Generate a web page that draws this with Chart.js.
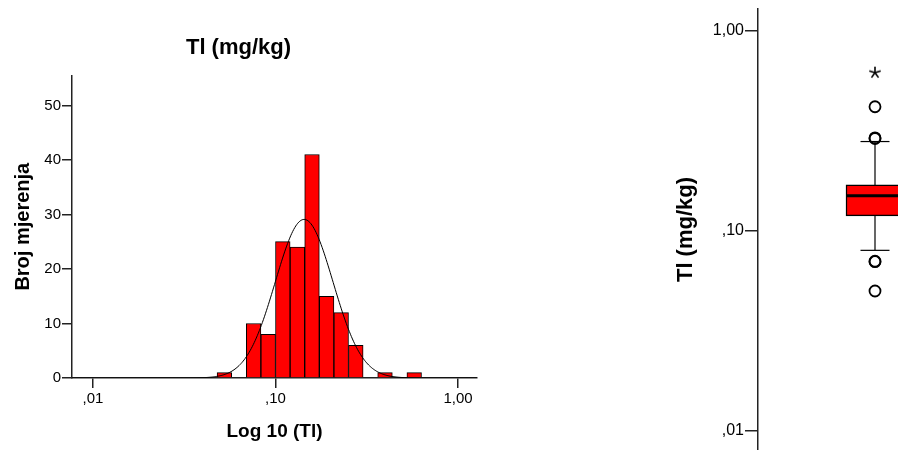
<!DOCTYPE html>
<html>
<head>
<meta charset="utf-8">
<script src="https://cdn.jsdelivr.net/npm/chart.js@4.4.1/dist/chart.umd.min.js"></script>
<style>
  html, body { margin: 0; padding: 0; background: #fff; width: 898px; height: 450px; overflow: hidden; position: relative; }
  #hist { position: absolute; left: 0; top: 0; }
  #box { position: absolute; left: 660px; top: 0; }
</style>
</head>
<body>
<canvas id="hist" width="484" height="450"></canvas>
<canvas id="box" width="332" height="450"></canvas>
<script>
// ---------- Data: histogram of log10(Tl) ----------
const binCenters = [-1.28, -1.20, -1.12, -1.04, -0.96, -0.88, -0.80, -0.72, -0.64, -0.56, -0.48, -0.40, -0.32, -0.24];
const binCounts  = [1, 0, 10, 8, 25, 24, 41, 15, 12, 6, 0, 1, 0, 1];
const binWidth = 0.08;
const normalMean = -0.843;
const normalSD = 0.158;
const histXTickValues = [-2, -1, 0];
const histXTickLabels = [',01', ',10', '1,00'];
const histYTickValues = [0, 10, 20, 30, 40, 50];

// ---------- Data: box plot of Tl (mg/kg) ----------
const boxQ1 = 0.119;
const boxMedian = 0.150;
const boxQ3 = 0.170;
const whiskerLow = 0.080;
const whiskerHigh = 0.280;
const outliers = [0.290, 0.292, 0.418, 0.0702, 0.0706, 0.0501];
const extremes = [0.619];
const boxTickValues = [0.01, 0.1, 1];
const boxTickLabels = [',01', ',10', '1,00'];

Chart.defaults.font.family = "'Liberation Sans', Arial, sans-serif";
Chart.defaults.color = '#000';

// normal curve from fitted parameters
const totalN = binCounts.reduce((a, b) => a + b, 0);
const xMin = -2.115, xMax = 0.104;
const curve = [];
for (let i = 0; i <= 400; i++) {
  const x = xMin + (xMax - xMin) * i / 400;
  const z = (x - normalMean) / normalSD;
  curve.push({ x: x, y: totalN * binWidth / (normalSD * Math.sqrt(2 * Math.PI)) * Math.exp(-0.5 * z * z) });
}

new Chart(document.getElementById('hist'), {
  type: 'bar',
  data: {
    datasets: [
      {
        type: 'line',
        data: curve,
        borderColor: '#000',
        borderWidth: 1,
        pointRadius: 0,
        tension: 0,
        order: 0
      },
      {
        type: 'bar',
        data: binCenters.map((c, i) => ({ x: c, y: binCounts[i] })),
        backgroundColor: '#ff0000',
        borderColor: '#000',
        borderWidth: 1,
        barPercentage: 1,
        categoryPercentage: 1,
        order: 1
      }
    ]
  },
  options: {
    responsive: false,
    animation: false,
    devicePixelRatio: 1,
    layout: { autoPadding: false, padding: { left: 0, right: 7, top: 0, bottom: 0 } },
    plugins: {
      legend: { display: false },
      tooltip: { enabled: false },
      title: {
        display: true,
        text: 'Tl (mg/kg)',
        color: '#000',
        font: { size: 22, weight: 'bold' },
        padding: { top: 35, bottom: 14 }
      }
    },
    scales: {
      x: {
        type: 'linear',
        min: xMin,
        max: xMax,
        bounds: 'data',
        offset: false,
        afterBuildTicks: s => { s.ticks = histXTickValues.map(v => ({ value: v })); },
        afterFit: s => { s.height = 72; },
        ticks: {
          callback: v => histXTickLabels[histXTickValues.indexOf(v)],
          font: { size: 15 },
          color: '#000',
          padding: 2,
          maxRotation: 0,
          autoSkip: false
        },
        grid: { display: true, offset: false, drawOnChartArea: false, drawTicks: true, tickLength: 10, color: '#222', lineWidth: 1.5 },
        border: { display: true, color: '#222', width: 1.5 },
        title: { display: true, text: 'Log 10 (Tl)', color: '#000', font: { size: 19, weight: 'bold' }, padding: { top: 0, bottom: 7 } }
      },
      y: {
        min: 0,
        max: 55.5,
        bounds: 'data',
        afterBuildTicks: s => { s.ticks = histYTickValues.map(v => ({ value: v })); },
        afterFit: s => { s.width = 72; },
        ticks: { font: { size: 15 }, color: '#000', padding: 1, autoSkip: false },
        grid: { display: true, drawOnChartArea: false, drawTicks: true, tickLength: 10, color: '#222', lineWidth: 1.5 },
        border: { display: true, color: '#222', width: 1.5 },
        title: { display: true, text: 'Broj mjerenja', color: '#000', font: { size: 20, weight: 'bold' }, padding: { top: 11, bottom: 0 } }
      }
    }
  }
});

// asterisk point style for extreme values
function makeAsterisk(r, lw) {
  const s = Math.ceil(2 * r + lw + 2);
  const c = document.createElement('canvas');
  c.width = s; c.height = s;
  const g = c.getContext('2d');
  g.strokeStyle = '#000';
  g.lineWidth = lw;
  const cx = s / 2, cy = s / 2;
  for (let k = 0; k < 5; k++) {
    const a = -Math.PI / 2 + k * 2 * Math.PI / 5;
    g.beginPath();
    g.moveTo(cx, cy);
    g.lineTo(cx + r * Math.cos(a), cy + r * Math.sin(a));
    g.stroke();
  }
  return c;
}

new Chart(document.getElementById('box'), {
  type: 'bar',
  data: {
    datasets: [
      { type: 'line', data: [{ x: 0, y: boxMedian }], showLine: false, pointStyle: 'line', pointRadius: 29, pointBorderWidth: 3, pointBorderColor: '#000', order: 0 },
      { type: 'line', data: outliers.map(v => ({ x: 0, y: v })), showLine: false, pointStyle: 'circle', pointRadius: 5.5, pointBorderWidth: 1.8, pointBorderColor: '#000', pointBackgroundColor: 'rgba(255,255,255,0)', order: 1 },
      { type: 'line', data: extremes.map(v => ({ x: 0, y: v })), showLine: false, pointStyle: makeAsterisk(6, 1.6), pointRadius: 6, order: 1 },
      { type: 'bar', data: [{ x: 0, y: [boxQ1, boxQ3] }], backgroundColor: '#ff0000', borderColor: '#000', borderWidth: 1.5, borderSkipped: false, barThickness: 58, order: 2 },
      { type: 'line', data: [{ x: 0, y: whiskerLow }, { x: 0, y: boxQ1 }], borderColor: '#000', borderWidth: 1.2, pointRadius: 0, order: 3 },
      { type: 'line', data: [{ x: 0, y: boxQ3 }, { x: 0, y: whiskerHigh }], borderColor: '#000', borderWidth: 1.2, pointRadius: 0, order: 3 },
      { type: 'line', data: [{ x: 0, y: whiskerLow }, { x: 0, y: whiskerHigh }], showLine: false, pointStyle: 'line', pointRadius: 14.5, pointBorderWidth: 1.2, pointBorderColor: '#000', order: 3 }
    ]
  },
  options: {
    responsive: false,
    animation: false,
    devicePixelRatio: 1,
    layout: { autoPadding: false, padding: { left: 0, right: 0, top: 9, bottom: 0 } },
    plugins: { legend: { display: false }, tooltip: { enabled: false }, title: { display: false } },
    scales: {
      x: { type: 'linear', min: -1, max: 1, display: false, offset: false },
      y: {
        type: 'logarithmic',
        min: 0.00803,
        max: 1.288,
        bounds: 'data',
        afterBuildTicks: s => { s.ticks = boxTickValues.map(v => ({ value: v })); },
        afterFit: s => { s.width = 98; s.paddingTop = 0; s.paddingBottom = 0; },
        ticks: {
          callback: v => { const i = boxTickValues.findIndex(t => Math.abs(t - v) < 1e-9); return i >= 0 ? boxTickLabels[i] : ''; },
          font: { size: 16 },
          color: '#000',
          padding: 1,
          autoSkip: false
        },
        grid: { display: true, drawOnChartArea: false, drawTicks: true, tickLength: 13, color: '#222', lineWidth: 1.5 },
        border: { display: true, color: '#222', width: 1.5 },
        title: { display: true, text: 'Tl (mg/kg)', color: '#000', font: { size: 22, weight: 'bold' }, padding: { top: 13, bottom: 0 } }
      }
    }
  }
});
</script>
</body>
</html>
